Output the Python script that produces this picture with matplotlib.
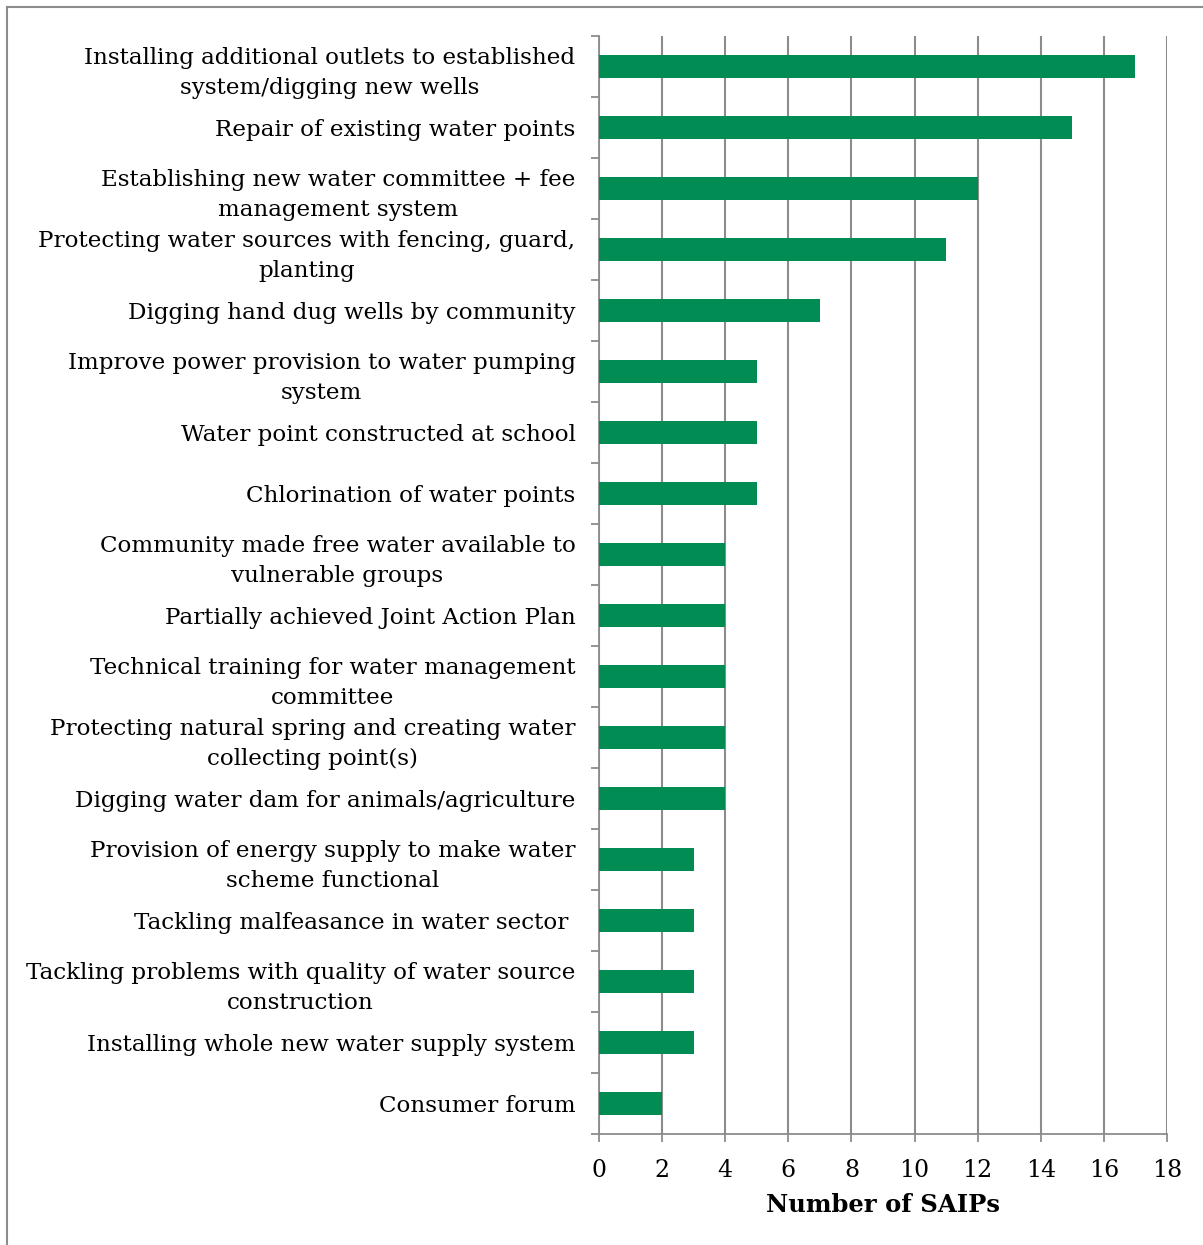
import matplotlib
matplotlib.use("Agg")
import matplotlib.pyplot as plt
from matplotlib.lines import Line2D

categories = [
    "Installing additional outlets to established\nsystem/digging new wells",
    "Repair of existing water points",
    "Establishing new water committee + fee\nmanagement system",
    "Protecting water sources with fencing, guard,\nplanting",
    "Digging hand dug wells by community",
    "Improve power provision to water pumping\nsystem",
    "Water point constructed at school",
    "Chlorination of water points",
    "Community made free water available to\nvulnerable groups",
    "Partially achieved Joint Action Plan",
    "Technical training for water management\ncommittee",
    "Protecting natural spring and creating water\ncollecting point(s)",
    "Digging water dam for animals/agriculture",
    "Provision of energy supply to make water\nscheme functional",
    "Tackling malfeasance in water sector ",
    "Tackling problems with quality of water source\nconstruction",
    "Installing whole new water supply system",
    "Consumer forum",
]
values = [17, 15, 12, 11, 7, 5, 5, 5, 4, 4, 4, 4, 4, 3, 3, 3, 3, 2]
xticks = [0, 2, 4, 6, 8, 10, 12, 14, 16, 18]
xlabel = "Number of SAIPs"

W, H = 1203, 1245
fig = plt.figure(figsize=(W / 100, H / 100), dpi=100)
ax = fig.add_axes([599 / W, 1 - 1134 / H, (1167 - 599) / W, (1134 - 36) / H])

n = len(categories)
ypos = list(range(n))
ax.barh(ypos, values, height=0.39, color="#008C52", zorder=3)
ax.set_ylim(n - 0.5, -0.5)
ax.set_xlim(0, 18)

font = "DejaVu Serif"
ax.set_yticks(ypos)
ax.set_yticklabels(categories, fontfamily=font, fontsize=16.6, linespacing=1.45,
                   ha="right", multialignment="center")
ax.tick_params(axis="y", which="major", length=0, pad=17)
ax.set_yticks([i - 0.5 for i in range(n + 1)], minor=True)
ax.tick_params(axis="y", which="minor", length=6, width=1.3, color="#8c8c8c")

ax.set_xticks(xticks)
ax.set_xticklabels([str(t) for t in xticks], fontfamily=font, fontsize=17)
ax.tick_params(axis="x", which="major", length=6, width=1.3, color="#8c8c8c", pad=12)
ax.set_xlabel(xlabel, fontfamily=font, fontsize=17.5, fontweight="bold", labelpad=8)

ax.grid(axis="x", color="#8c8c8c", linewidth=1.5, zorder=0)
for s in ["top", "right"]:
    ax.spines[s].set_visible(False)
for s in ["left", "bottom"]:
    ax.spines[s].set_color("#8c8c8c")
    ax.spines[s].set_linewidth(1.3)

# outer frame (top and left edges visible)
fig.add_artist(Line2D([7 / W, 7 / W], [0, 1 - 7 / H], transform=fig.transFigure,
                      color="#8c8c8c", linewidth=1.5))
fig.add_artist(Line2D([7 / W, 1202 / W], [1 - 7 / H, 1 - 7 / H], transform=fig.transFigure,
                      color="#8c8c8c", linewidth=1.5))

fig.savefig("out.png", dpi=100)
